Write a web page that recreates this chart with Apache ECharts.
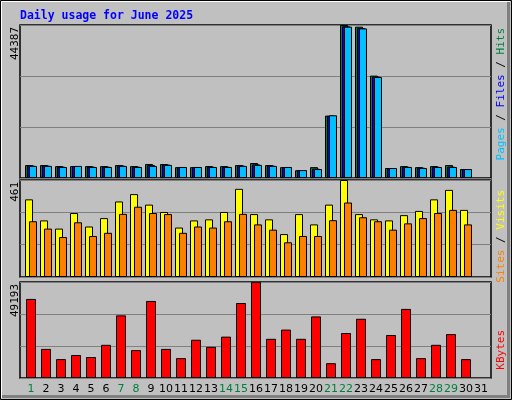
<!DOCTYPE html>
<html><head><meta charset="utf-8">
<script src="https://cdn.jsdelivr.net/npm/echarts@6/dist/echarts.min.js"></script>
<style>html,body{margin:0;padding:0;background:#c0c0c0}#c{width:512px;height:400px}</style>
</head><body><div id="c"></div>
<script>
const days = ['1','2','3','4','5','6','7','8','9','10','11','12','13','14','15','16','17','18','19','20','21','22','23','24','25','26','27','28','29','30','31'];
const weekend = ['1','7','8','14','15','21','22','28','29'];
const hits  = [3750,3750,3450,3450,3450,3450,3750,3450,4050,4050,3150,3150,3450,3450,3750,4350,3750,3150,2250,3150,18100,44387,43900,29700,2900,3450,3150,3450,3750,2600,null];
const files = [3600,3600,3300,3450,3300,3300,3600,3300,3750,3900,3150,3150,3250,3250,3600,3950,3600,3150,2250,2700,18000,44000,43500,29450,2900,3250,3000,3250,3300,2600,null];
const pages = [3500,3500,3200,3500,3200,3200,3500,3200,3500,3800,3200,3200,3200,3200,3500,3800,3500,3200,2300,2600,18200,43900,43400,29300,2900,3200,2900,3200,3200,2600,null];
const visits = [369,269,230,304,240,280,359,394,344,309,235,269,274,309,419,299,274,204,299,250,344,461,299,274,269,294,314,369,414,319,null];
const sites  = [265,230,190,260,195,210,300,334,304,299,210,240,235,265,300,250,225,165,195,195,270,354,284,265,225,255,280,304,319,250,null];
const kbytes = [40520,14910,9680,11770,10730,17000,32100,14300,39480,14910,10200,19600,15950,21200,38430,49193,20080,24800,20080,31560,7590,23050,30360,9680,22020,35400,10200,17000,22500,9680,null];
const maxTop = 44387, maxMid = 461, maxBot = 49193;

const chart = echarts.init(document.getElementById('c'));
const panels = [{top:25,height:153},{top:180,height:97},{top:282,height:96}];
const maxes = [maxTop,maxMid,maxBot];
const grids = [];
panels.forEach(p=>grids.push({left:23.5,right:23.5,top:p.top,height:p.height}));
panels.forEach(p=>grids.push({left:20,right:21,top:p.top,height:p.height,show:true,borderColor:'#000',borderWidth:1.5,backgroundColor:'#c0c0c0',z:0}));
const xAxes=[], yAxes=[];
for(let i=0;i<6;i++){
  const show = i===2;
  xAxes.push({type:'category',gridIndex:i,data:days,boundaryGap:true,axisLine:{show:false},axisTick:{show:false},
    axisLabel:{show:show,margin:6,fontFamily:'DejaVu Sans',fontSize:11,interval:0,
      formatter:v=>weekend.includes(v)?'{w|'+v+'}':'{n|'+v+'}',
      rich:{w:{color:'#008040',fontFamily:'DejaVu Sans',fontSize:11},n:{color:'#000',fontFamily:'DejaVu Sans',fontSize:11}}}});
  const m = maxes[i%3];
  yAxes.push({type:'value',gridIndex:i,min:0,max:m,interval:m/3,axisLabel:{show:false},axisLine:{show:false},axisTick:{show:false},
    splitLine:{show:i>=3,lineStyle:{color:'#808080',width:1}}});
}
const bs=(name,data,color,ai,w,gap)=>({type:'bar',name,data,xAxisIndex:ai,yAxisIndex:ai,barWidth:w,barGap:gap,
  itemStyle:{color,borderColor:'#000',borderWidth:1},animation:false,z:3});
const rot = Math.PI/2;
const vt=(x,y,rich,text)=>({type:'text',x,y,rotation:rot,style:{text,rich,align:'right',verticalAlign:'middle',fontFamily:'DejaVu Sans Mono',fontSize:11}});
chart.setOption({
  backgroundColor:'#c0c0c0',
  animation:false,
  grid:grids,
  xAxis:xAxes,yAxis:yAxes,
  series:[
    bs('Hits',hits,'#008040',0,8,'-75%'),
    bs('Files',files,'#0000ff',0,8,'-75%'),
    bs('Pages',pages,'#00c0ff',0,8,'-75%'),
    bs('Visits',visits,'#ffff00',1,8,'-50%'),
    bs('Sites',sites,'#ff8000',1,8,'-50%'),
    bs('KBytes',kbytes,'#ff0000',2,10,'0%')
  ],
  graphic:[
    {type:'rect',shape:{x:0.5,y:0.5,width:511,height:399},style:{fill:'none',stroke:'#000',lineWidth:1},silent:true},
    {type:'polyline',shape:{points:[[1.5,398],[1.5,1.5],[510,1.5]]},style:{stroke:'#ffffff',lineWidth:1,fill:'none'}},
    {type:'polyline',shape:{points:[[2,396.5],[508.5,396.5],[508.5,2]]},style:{stroke:'#808080',lineWidth:3,fill:'none'}},
    {type:'text',x:20,y:16,style:{text:'Daily usage for June 2025',fill:'#0000ff',fontFamily:'DejaVu Sans Mono',fontWeight:'bold',fontSize:11.5,verticalAlign:'middle'}},
    vt(15,27,{a:{fill:'#000'}},'{a|'+maxTop+'}'),
    vt(15,182,{a:{fill:'#000'}},'{a|'+maxMid+'}'),
    vt(15,284,{a:{fill:'#000'}},'{a|'+maxBot+'}'),
    vt(501,28,{p:{fill:'#00c0ff'},f:{fill:'#0000ff'},h:{fill:'#008040'},s:{fill:'#000'}},'{p|Pages}{s| / }{f|Files}{s| / }{h|Hits}'),
    vt(501,190,{a:{fill:'#ff8000'},b:{fill:'#ffff00'},s:{fill:'#000'}},'{a|Sites}{s| / }{b|Visits}'),
    vt(501,330,{a:{fill:'#ff0000'}},'{a|KBytes}')
  ]
});
</script></body></html>
